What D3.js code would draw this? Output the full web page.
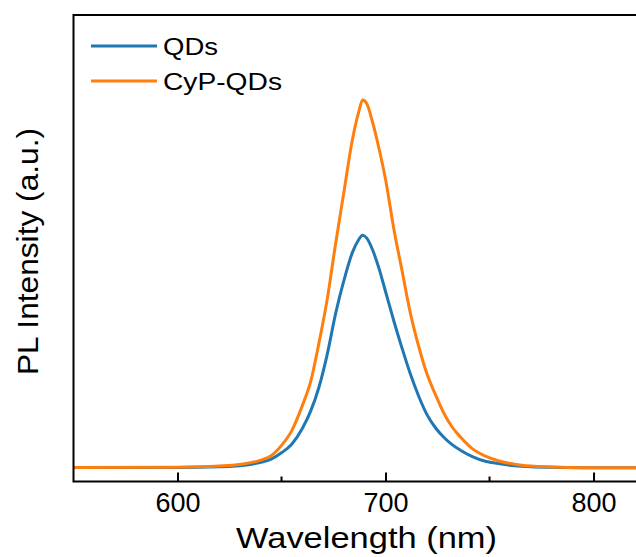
<!DOCTYPE html>
<html>
<head>
<meta charset="utf-8">
<script src="https://cdn.jsdelivr.net/npm/d3@7/dist/d3.min.js"></script>
<style>
  body { margin: 0; background: #fff; }
  text { font-family: "Liberation Sans", Arial, sans-serif; fill: #000; }
</style>
</head>
<body>
<div id="chart"></div>
<script>
// wavelength grid (nm) shared by both spectra
let wavelength = [550, 600, 620, 630, 640, 645, 650, 655, 660, 664, 668, 672, 676, 680, 684, 687, 689, 691, 694, 697, 700, 704, 708, 712, 716, 720, 724, 728, 732, 736, 742, 748, 755, 762, 770, 780, 800, 822];
let qds = [0.2, 0.2, 0.4, 0.7, 1.6, 2.5, 4.2, 6.6, 10.8, 15.5, 22, 31, 42, 51, 58.5, 62, 63.3, 62.5, 59, 54, 48, 40, 32.5, 25.5, 19.5, 14.5, 11, 8.4, 6.4, 4.9, 3.1, 1.9, 1.2, 0.7, 0.4, 0.25, 0.12, 0.1];
let cypQds = [0.2, 0.3, 0.6, 1.0, 2.2, 3.4, 6.2, 10.3, 17, 23.5, 34, 46, 61, 75, 89, 96.5, 100, 99, 93.5, 86.5, 78.5, 65, 53.5, 42, 33, 25.5, 20, 15, 11.2, 8.5, 5.2, 3.3, 1.9, 1.1, 0.6, 0.35, 0.15, 0.1];
let seriesNames = ["QDs", "CyP-QDs"];
let seriesColors = ["#1f77b4", "#ff7f0e"];
let majorTicks = [600, 700, 800];
let minorTicks = [650, 750];

let width = 636, height = 557;
let plotLeft = 73.5, plotTop = 15, plotRight = 639.3, plotBottom = 481.5;

let svg = d3.select("#chart")
	.append("svg")
	.attr("width", width)
	.attr("height", height);

let xScale = d3.scaleLinear().domain([550, 822]).range([plotLeft, plotRight]);
let yScale = d3.scaleLinear().domain([-3.6, 123.1]).range([plotBottom, plotTop]);

svg.append("defs").append("clipPath")
	.attr("id", "plot-clip")
	.append("rect")
	.attr("x", plotLeft).attr("y", plotTop)
	.attr("width", plotRight - plotLeft).attr("height", plotBottom - plotTop);

// spectra
let line = d3.line()
	.x(d => xScale(d[0]))
	.y(d => yScale(d[1]))
	.curve(d3.curveMonotoneX);

[qds, cypQds].forEach(function (vals, i) {
	svg.append("path")
		.datum(wavelength.map((w, j) => [w, vals[j]]))
		.attr("clip-path", "url(#plot-clip)")
		.attr("fill", "none")
		.attr("stroke", seriesColors[i])
		.attr("stroke-width", 3)
		.attr("stroke-linejoin", "round")
		.attr("d", line);
});

// frame
svg.append("rect")
	.attr("x", plotLeft).attr("y", plotTop)
	.attr("width", plotRight - plotLeft).attr("height", plotBottom - plotTop)
	.attr("fill", "none")
	.attr("stroke", "#000")
	.attr("stroke-width", 2);

// bottom axis, ticks pointing inward
let xAxis = d3.axisBottom(xScale)
	.tickValues(majorTicks)
	.tickSizeInner(-9)
	.tickSizeOuter(0)
	.tickPadding(11);

let gx = svg.append("g")
	.attr("transform", `translate(0, ${plotBottom})`)
	.call(xAxis);
gx.select(".domain").remove();
gx.selectAll(".tick line").attr("stroke", "#000").attr("stroke-width", 2);
gx.selectAll(".tick text")
	.attr("fill", "#000")
	.style("font-size", "27px")
	.style("font-family", "'Liberation Sans', Arial, sans-serif");

svg.append("g")
	.selectAll("line")
	.data(minorTicks)
	.enter()
	.append("line")
	.attr("x1", d => xScale(d)).attr("x2", d => xScale(d))
	.attr("y1", plotBottom).attr("y2", plotBottom - 5)
	.attr("stroke", "#000")
	.attr("stroke-width", 2);

// axis titles
svg.append("text")
	.attr("x", 236)
	.attr("y", 548)
	.attr("textLength", 261)
	.attr("lengthAdjust", "spacingAndGlyphs")
	.style("font-size", "29px")
	.text("Wavelength (nm)");

svg.append("text")
	.attr("transform", "translate(38, 375) rotate(-90)")
	.attr("textLength", 247)
	.attr("lengthAdjust", "spacingAndGlyphs")
	.style("font-size", "30px")
	.text("PL Intensity (a.u.)");

// legend
let legend = svg.append("g");
legend.selectAll("line")
	.data(seriesNames)
	.enter()
	.append("line")
	.attr("x1", 91).attr("x2", 157)
	.attr("y1", (d, i) => 46 + i * 35)
	.attr("y2", (d, i) => 46 + i * 35)
	.attr("stroke", (d, i) => seriesColors[i])
	.attr("stroke-width", 3);

let legendWidths = [55, 119];
legend.selectAll("text")
	.data(seriesNames)
	.enter()
	.append("text")
	.attr("x", 163)
	.attr("y", (d, i) => 55 + i * 35)
	.attr("textLength", (d, i) => legendWidths[i])
	.attr("lengthAdjust", "spacingAndGlyphs")
	.style("font-size", "23px")
	.text(d => d);
</script>
</body>
</html>
